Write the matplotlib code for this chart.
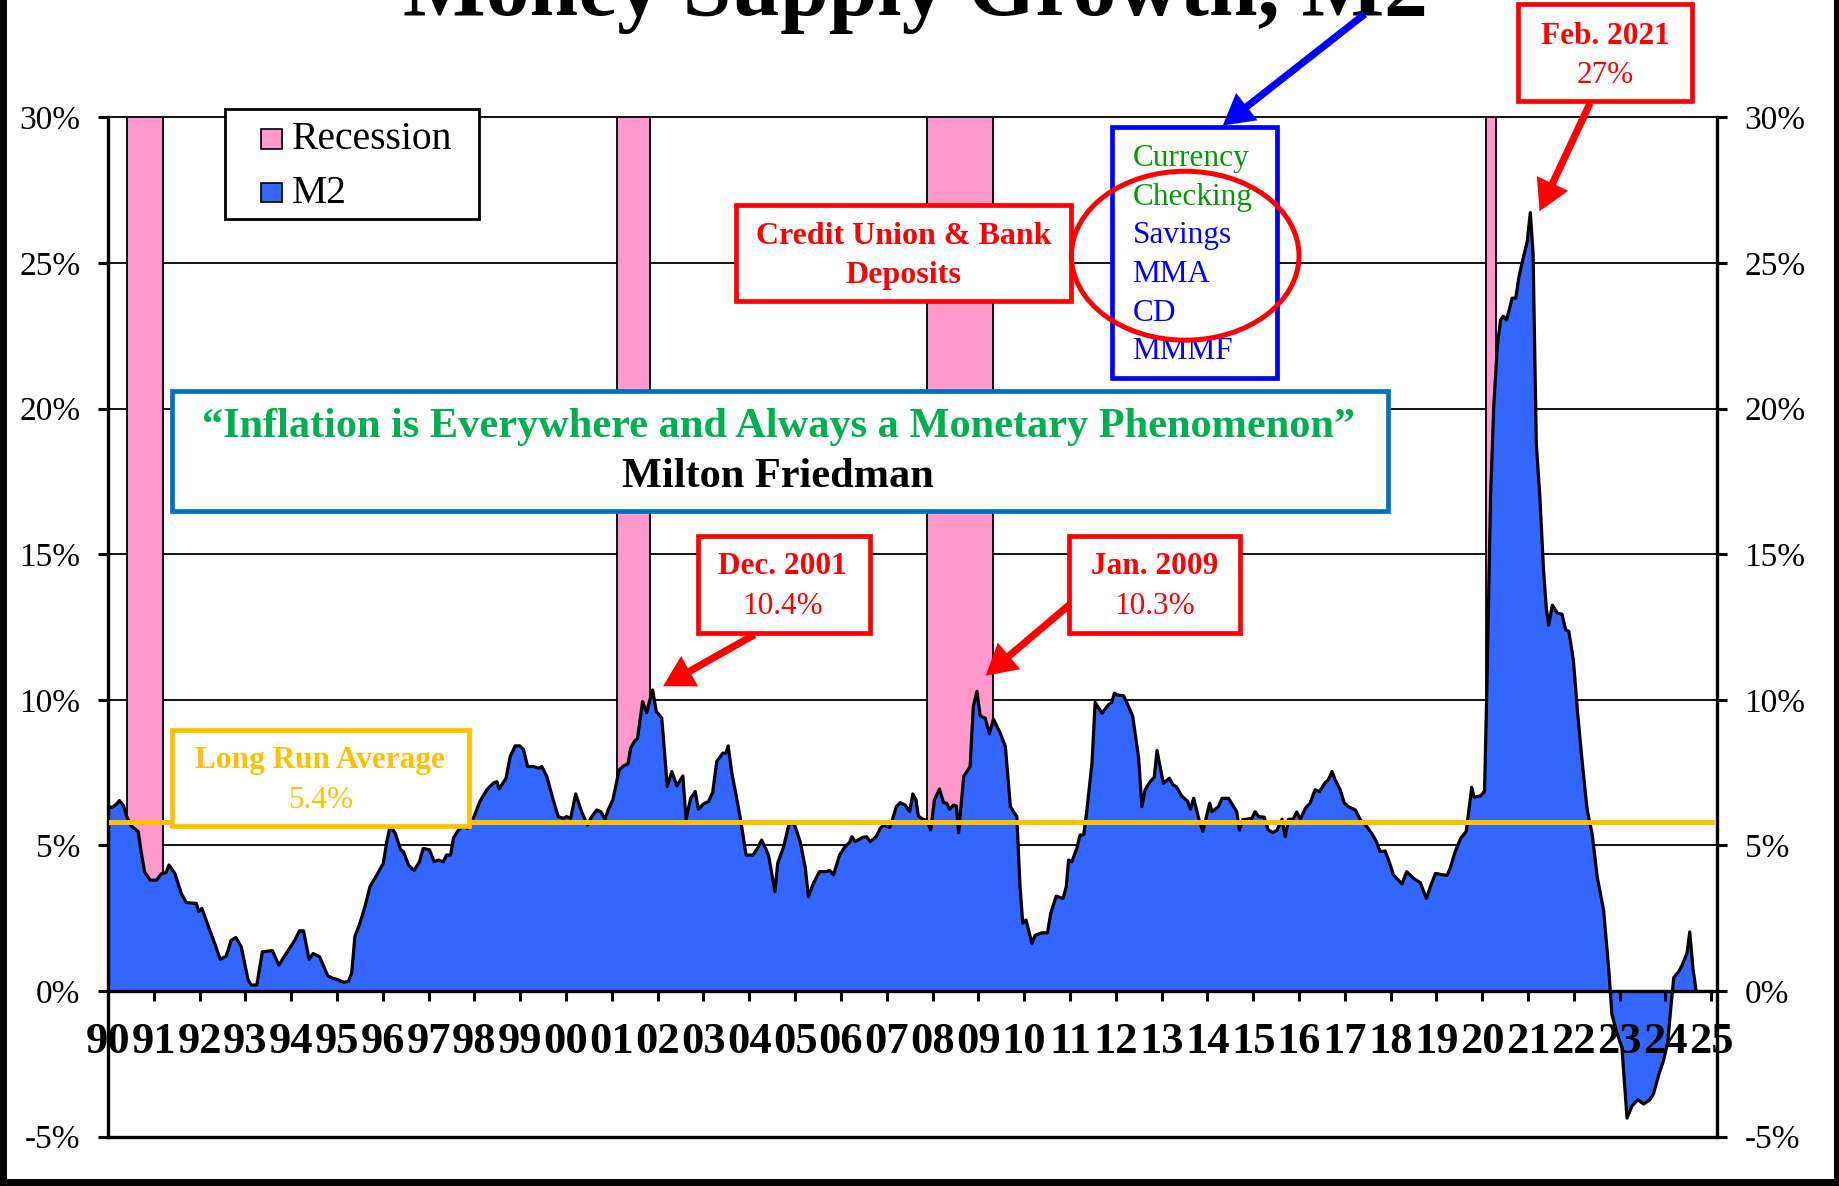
import matplotlib
matplotlib.use("Agg")
import matplotlib.pyplot as plt
from matplotlib.patches import Rectangle, Ellipse, FancyArrowPatch
import numpy as np

plt.rcParams['font.family'] = ['Liberation Serif', 'DejaVu Serif']

# M2 growth, year over year (%)
m2_date = [
    1990.00, 1990.09, 1990.18, 1990.25, 1990.34, 1990.41, 1990.51, 1990.66, 1990.73, 1990.80, 1990.92,
    1991.06, 1991.16, 1991.27, 1991.33, 1991.46, 1991.60, 1991.71, 1991.93, 1991.98,
    1992.05, 1992.22, 1992.33, 1992.45, 1992.58, 1992.69, 1992.79, 1992.91,
    1993.06, 1993.13, 1993.25, 1993.37, 1993.59, 1993.73, 1993.89,
    1994.08, 1994.18, 1994.27, 1994.39, 1994.48, 1994.62, 1994.80, 1994.91,
    1995.00, 1995.15, 1995.25, 1995.32, 1995.39, 1995.50, 1995.61, 1995.72, 1995.87,
    1996.01, 1996.08, 1996.16, 1996.27, 1996.39, 1996.45, 1996.56, 1996.68, 1996.80, 1996.88,
    1997.02, 1997.12, 1997.21, 1997.32, 1997.39, 1997.48, 1997.54, 1997.65, 1997.76, 1997.85, 1997.99,
    1998.12, 1998.27, 1998.41, 1998.49, 1998.54, 1998.69, 1998.78, 1998.89, 1998.99,
    1999.07, 1999.16, 1999.29, 1999.40, 1999.47, 1999.58, 1999.72, 1999.83, 1999.94,
    2000.01, 2000.10, 2000.21, 2000.34, 2000.47, 2000.56, 2000.67, 2000.76, 2000.85, 2000.92,
    2001.02, 2001.09, 2001.16, 2001.25, 2001.35, 2001.41, 2001.49, 2001.56, 2001.67, 2001.76, 2001.82, 2001.89, 2001.97,
    2002.09, 2002.21, 2002.31, 2002.42, 2002.55, 2002.62, 2002.72, 2002.82, 2002.89,
    2003.00, 2003.11, 2003.20, 2003.29, 2003.42, 2003.49, 2003.54, 2003.62, 2003.76, 2003.84, 2003.93,
    2004.08, 2004.18, 2004.27, 2004.42, 2004.56, 2004.62, 2004.75, 2004.88, 2004.99,
    2005.11, 2005.22, 2005.29, 2005.40, 2005.53, 2005.66, 2005.76, 2005.84, 2005.97,
    2006.09, 2006.19, 2006.24, 2006.31, 2006.48, 2006.56, 2006.64, 2006.77, 2006.86, 2006.93,
    2007.07, 2007.21, 2007.29, 2007.40, 2007.50, 2007.57, 2007.64, 2007.69, 2007.79, 2007.88, 2007.96,
    2008.04, 2008.15, 2008.24, 2008.31, 2008.37, 2008.46, 2008.52, 2008.57, 2008.68, 2008.82, 2008.89, 2008.97,
    2009.04, 2009.15, 2009.24, 2009.33, 2009.48, 2009.59, 2009.70, 2009.84, 2009.91, 2009.97,
    2010.04, 2010.17, 2010.24, 2010.39, 2010.51, 2010.58, 2010.70, 2010.85, 2010.92, 2010.97,
    2011.04, 2011.15, 2011.22, 2011.30, 2011.37, 2011.48, 2011.55, 2011.70, 2011.84, 2011.91, 2011.97,
    2012.02, 2012.17, 2012.28, 2012.37, 2012.50, 2012.57, 2012.64, 2012.75, 2012.84, 2012.90,
    2013.04, 2013.17, 2013.25, 2013.32, 2013.44, 2013.57, 2013.63, 2013.70, 2013.81, 2013.90,
    2014.05, 2014.10, 2014.24, 2014.32, 2014.46, 2014.64, 2014.70, 2014.77, 2014.97,
    2015.04, 2015.12, 2015.24, 2015.33, 2015.43, 2015.52, 2015.63, 2015.70, 2015.77, 2015.87, 2015.95,
    2016.03, 2016.14, 2016.24, 2016.35, 2016.45, 2016.57, 2016.64, 2016.72, 2016.79, 2016.90, 2016.99,
    2017.08, 2017.23, 2017.34, 2017.48, 2017.61, 2017.69, 2017.77, 2017.88, 2017.98,
    2018.06, 2018.25, 2018.35, 2018.50, 2018.65, 2018.78, 2018.88, 2018.98,
    2019.08, 2019.23, 2019.30, 2019.41, 2019.53, 2019.65, 2019.70, 2019.77, 2019.82, 2019.96,
    2020.05, 2020.11, 2020.18, 2020.25, 2020.33, 2020.40, 2020.46, 2020.53, 2020.60, 2020.65, 2020.73, 2020.80, 2020.89, 2020.98,
    2021.05, 2021.11, 2021.18, 2021.26, 2021.34, 2021.40, 2021.45, 2021.53, 2021.64, 2021.74, 2021.82, 2021.89, 2021.99,
    2022.08, 2022.18, 2022.29, 2022.40, 2022.51, 2022.65, 2022.76, 2022.83, 2022.94,
    2023.05, 2023.16, 2023.27, 2023.40, 2023.52, 2023.66, 2023.74, 2023.85, 2023.96,
    2024.05, 2024.11, 2024.18, 2024.29, 2024.36, 2024.47, 2024.53, 2024.60, 2024.67,
]
m2_growth = [
    6.33, 6.31, 6.41, 6.54, 6.36, 5.99, 5.67, 5.48, 4.73, 4.10, 3.81,
    3.81, 4.02, 4.07, 4.33, 4.04, 3.36, 3.04, 3.01, 2.73,
    2.84, 2.10, 1.64, 1.09, 1.20, 1.75, 1.84, 1.52,
    0.38, 0.21, 0.21, 1.35, 1.39, 0.89, 1.29,
    1.75, 2.07, 2.07, 1.09, 1.29, 1.18, 0.52, 0.44,
    0.40, 0.30, 0.34, 0.61, 1.87, 2.33, 2.90, 3.59, 3.99,
    4.39, 5.07, 5.67, 5.42, 4.85, 4.79, 4.33, 4.14, 4.44, 4.90,
    4.85, 4.44, 4.50, 4.44, 4.67, 4.67, 5.25, 5.53, 5.67, 5.59, 5.99,
    6.51, 6.91, 7.14, 7.19, 6.94, 7.31, 8.05, 8.42, 8.42,
    8.30, 7.71, 7.71, 7.65, 7.71, 7.37, 6.56, 5.99, 5.93,
    5.99, 5.93, 6.77, 6.16, 5.70, 5.99, 6.22, 6.16, 5.90, 6.22,
    6.56, 7.08, 7.59, 7.73, 7.80, 8.34, 8.57, 8.68, 9.94, 9.56, 9.94, 10.34, 9.60,
    9.37, 7.02, 7.54, 7.04, 7.39, 5.90, 6.62, 6.85, 6.24,
    6.43, 6.51, 6.82, 7.88, 8.17, 8.17, 8.42, 7.48, 6.33, 5.59, 4.67,
    4.67, 4.90, 5.19, 4.67, 3.41, 4.39, 4.96, 5.82, 5.70,
    5.13, 4.27, 3.24, 3.70, 4.10, 4.10, 4.14, 3.99, 4.67,
    4.96, 5.10, 5.30, 5.13, 5.28, 5.30, 5.13, 5.30, 5.59, 5.70,
    5.62, 6.33, 6.47, 6.39, 6.16, 6.77, 6.56, 6.01, 5.90, 5.85, 5.53,
    6.56, 6.94, 6.47, 6.45, 6.24, 6.39, 6.36, 5.44, 7.37, 7.71, 9.77, 10.29,
    9.45, 9.37, 8.83, 9.34, 8.85, 8.40, 6.33, 5.99, 3.59, 2.33,
    2.44, 1.64, 1.92, 2.00, 2.00, 2.67, 3.26, 3.18, 3.59, 4.50,
    4.44, 4.90, 5.36, 5.36, 6.22, 7.82, 9.91, 9.54, 9.83, 9.91, 10.23,
    10.17, 10.14, 9.77, 9.43, 8.00, 6.33, 6.91, 7.19, 7.34, 8.26,
    7.13, 7.31, 7.08, 7.02, 6.70, 6.51, 6.24, 6.62, 5.93, 5.48,
    6.45, 6.16, 6.33, 6.62, 6.62, 6.16, 5.53, 5.88, 5.93,
    6.16, 5.99, 5.97, 5.53, 5.44, 5.53, 5.90, 5.30, 5.90, 5.90, 6.15,
    5.90, 6.28, 6.45, 6.91, 6.85, 7.16, 7.25, 7.54, 7.25, 6.91, 6.45,
    6.33, 6.22, 5.88, 5.65, 5.36, 5.13, 4.79, 4.81, 4.39,
    3.99, 3.68, 4.10, 3.87, 3.72, 3.18, 3.64, 4.04,
    4.01, 3.97, 4.22, 4.79, 5.25, 5.48, 6.11, 7.00, 6.66, 6.70,
    6.86, 11.05, 16.90, 20.06, 22.16, 23.04, 23.17, 23.04, 23.46, 23.79, 23.79, 24.51, 25.14, 25.72,
    26.73, 25.31, 18.81, 16.92, 14.40, 13.14, 12.56, 13.25, 12.98, 12.94, 12.41, 12.35, 11.36,
    9.58, 7.90, 6.23, 5.39, 3.92, 2.77, 0.78, -0.80, -1.43,
    -1.95, -4.36, -3.94, -3.73, -3.88, -3.73, -3.52, -2.89, -2.37,
    -1.74, -0.69, 0.46, 0.67, 0.88, 1.30, 2.03, 0.78, 0.0,
]

# recessions (start, end as fractional years)
rec_start = [1990.42, 2001.12, 2007.87, 2020.08]
rec_end = [1991.20, 2001.84, 2009.32, 2020.31]
rec_top = 30

avg_line = 5.8   # where the chart draws the "long run average"

year_ticks = list(range(1990, 2026))
year_labels = ["%02d" % (y % 100) for y in year_ticks]
pct_ticks = [-5, 0, 5, 10, 15, 20, 25, 30]
pct_labels = ["%d%%" % v for v in pct_ticks]

PINK = "#FF99CC"
BLUE = "#3366FF"
GOLD = "#FFC000"
RED = "#FF0000"

# layout measured on a 1568x1011 copy of the picture
W, H = 1568.0, 1011.0
def P(x, y):
    return (x / W, 1 - y / H)

fig = plt.figure(figsize=(18.4, 11.86), dpi=100)
ax = fig.add_axes([92 / W, 1 - 969 / H, (1463 - 92) / W, (969 - 100) / H])

# gridlines behind everything
for v in pct_ticks[2:]:
    ax.axhline(v, color="black", lw=1.3, zorder=0.5, clip_on=False)
ax.axhline(-5, color="black", lw=2.4, zorder=0.5, clip_on=False)

# recession bars
ax.bar(rec_start, rec_top, width=np.subtract(rec_end, rec_start), align="edge",
       color=PINK, edgecolor="black", linewidth=1.3, zorder=1)

# M2 area
ax.fill_between(m2_date, m2_growth, 0, color=BLUE, lw=0, zorder=2)
ax.plot(m2_date, m2_growth, color="black", lw=2.3, zorder=3)

ax.axhline(avg_line, xmin=0.002, xmax=0.997, color=GOLD, lw=3.6, zorder=4)

# axes: x axis sits on the 0% line
ax.spines["bottom"].set_position(("data", 0))
ax.spines["top"].set_visible(False)
for s in ["bottom", "left", "right"]:
    ax.spines[s].set_linewidth(2.4)
    ax.spines[s].set_zorder(3.5)
ax.xaxis.set_zorder(5)
ax.set_xlim(1990, 2025.12)
ax.set_ylim(-5, 30)
ax.tick_params(axis="x", direction="out", length=7, width=2.2, pad=15, labelsize=32)
ax.tick_params(axis="y", direction="out", length=7, width=2.2, pad=13, labelsize=24,
               right=True, labelright=True)
ax.set_xticks(year_ticks)
ax.set_xticklabels(year_labels, fontsize=32, fontweight="bold")
ax.set_yticks(pct_ticks)
ax.set_yticklabels(pct_labels, fontsize=24)


def box(x0, y0, x1, y1, color, lw=3.4):
    fig.patches.append(Rectangle(P(x0, y1), (x1 - x0) / W, (y1 - y0) / H,
                                 transform=fig.transFigure, facecolor="white",
                                 edgecolor=color, lw=lw, zorder=5))


def label(x, y, s, size, color, bold=False):
    fig.text(*P(x, y), s, ha="center", va="center", fontsize=size, color=color,
             fontweight="bold" if bold else "normal", zorder=7)


def arrow(x0, y0, x1, y1, color):
    fig.add_artist(FancyArrowPatch(P(x0, y0), P(x1, y1), transform=fig.transFigure,
                                   arrowstyle="simple,head_length=1.1,head_width=1.25,tail_width=0.26",
                                   mutation_scale=20, color=color, lw=0,
                                   shrinkA=0, shrinkB=0, zorder=8))


# legend, drawn as in the original (white box, square keys)
box(192, 93, 408, 187, "black", lw=2)
for (y0, y1), c, name, ty in [((110, 127), PINK, "Recession", 119), ((156, 172), BLUE, "M2", 165)]:
    fig.patches.append(Rectangle(P(222, y1), 18 / W, (y1 - y0) / H, transform=fig.transFigure,
                                 facecolor=c, edgecolor="black", lw=1.2, zorder=6))
    fig.text(*P(249, ty), name, ha="left", va="center", fontsize=28.5, zorder=7)

# title (cut off at the top of the picture)
fig.text(*P(780, 13), "Money Supply Growth, M2", ha="center", va="baseline",
         fontsize=63, fontweight="bold", color="black", zorder=7)

# quote
box(147, 333, 1183, 436, "#0070C0")
label(663, 364, "\u201cInflation is Everywhere and Always a Monetary Phenomenon\u201d", 30.5, "#00B050", True)
label(663, 407, "Milton Friedman", 30.5, "black", True)

# deposits
box(627, 175, 913, 257, RED)
label(770, 202, "Credit Union & Bank", 23, RED, True)
label(770, 235, "Deposits", 23, RED, True)

box(948, 108, 1088, 322, "#0000FF")
components = ["Currency", "Checking", "Savings", "MMA", "CD", "MMMF"]
comp_colors = ["#009A00", "#009A00", "#0000FF", "#0000FF", "#0000FF", "#0000FF"]
for i, (name, c) in enumerate(zip(components, comp_colors)):
    fig.text(*P(965, 135 + 33 * i), name, ha="left", va="center", fontsize=22.5,
             color=c, zorder=7)
fig.patches.append(Ellipse(P(1010, 218), 194 / W, 144 / H, transform=fig.transFigure,
                           fill=False, edgecolor=RED, lw=3.6, zorder=8))
arrow(1163, 12, 1042, 107, "#0000FF")

# peaks
box(1294, 3, 1442, 86, RED)
label(1368, 31, "Feb. 2021", 22.5, RED, True)
label(1368, 64, "27%", 22.5, RED)
arrow(1355, 88, 1312, 180, RED)

box(595, 457, 741, 540, RED)
label(667, 483, "Dec. 2001", 22.5, RED, True)
label(667, 517, "10.4%", 22.5, RED)
arrow(643, 541, 565, 585, RED)

box(911, 457, 1057, 540, RED)
label(984, 483, "Jan. 2009", 22.5, RED, True)
label(984, 517, "10.3%", 22.5, RED)
arrow(912, 515, 840, 576, RED)

box(147, 622, 400, 704, GOLD)
label(273, 648, "Long Run Average", 22.5, GOLD, True)
label(273, 682, "5.4%", 22.5, GOLD)

# frame round the picture (left, right, bottom)
for xs, ys in [([0.0015, 0.0015], [0, 1]), ([0.9985, 0.9985], [0, 1]), ([0, 1], [0.003, 0.003])]:
    fig.add_artist(plt.Line2D(xs, ys, transform=fig.transFigure, color="black", lw=5, zorder=9))

fig.savefig("out.png", dpi=100)
